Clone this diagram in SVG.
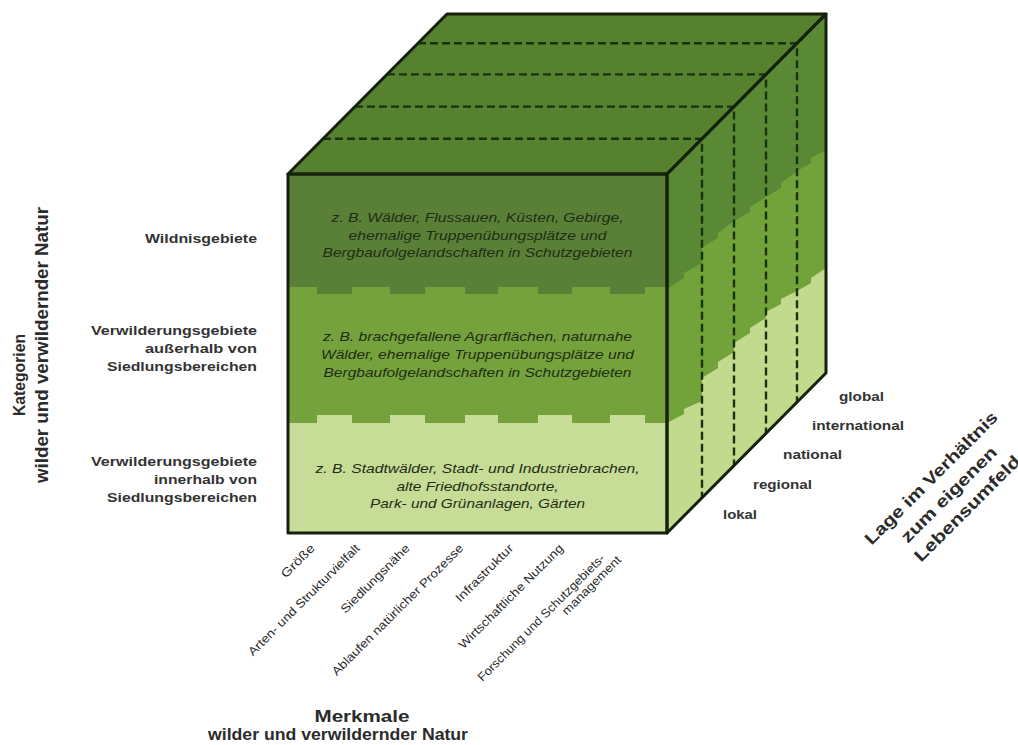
<svg xmlns="http://www.w3.org/2000/svg" width="1018" height="745" viewBox="0 0 1018 745">
<defs>
<style>
text{font-family:"Liberation Sans",Arial,Helvetica,sans-serif}
.band{font-style:italic;font-size:13px;fill:#1f2d14;text-anchor:middle}
.cat{font-size:13px;font-weight:bold;fill:#333;text-anchor:end}
.lvl{font-size:13px;font-weight:bold;fill:#333}
.feat{font-size:12px;fill:#2a2a2a;text-anchor:end}
.title{font-size:17px;font-weight:bold;fill:#2b2b2b;text-anchor:middle}
.edge{fill:none;stroke:#16210d;stroke-width:3;stroke-linejoin:round}
.dash{fill:none;stroke:#1b320c;stroke-width:2.4;stroke-dasharray:8 4}
</style>
<clipPath id="rf"><polygon points="667,174 826,14 826,373 667,533"/></clipPath>
</defs>
<rect width="1018" height="745" fill="#fff"/>

<g id="top-face">
<polygon points="288,174 447,14 826,14 667,174" fill="#56812f"/>
</g>

<g id="front-face">
<rect x="288" y="174" width="379" height="359" fill="#75a23c"/>
<rect x="288" y="174" width="379" height="113" fill="#5a8038"/>
<g fill="#5a8038">
<rect x="317" y="286" width="35" height="8"/><rect x="390" y="286" width="35" height="8"/><rect x="465" y="286" width="33" height="8"/><rect x="538" y="286" width="34" height="8"/><rect x="610" y="286" width="35" height="8"/>
</g>
<rect x="288" y="423" width="379" height="110" fill="#c7dc97"/>
<g fill="#c7dc97">
<rect x="317" y="415" width="35" height="9"/><rect x="390" y="415" width="35" height="9"/><rect x="465" y="415" width="33" height="9"/><rect x="538" y="415" width="34" height="9"/><rect x="610" y="415" width="35" height="9"/>
</g>
</g>

<g id="right-face" clip-path="url(#rf)">
<rect x="660" y="10" width="170" height="530" fill="#5a8936"/>
<polygon fill="#72a33a" points="667,289 684,278 684,273 702,263 702,247 718,238 718,233 734,221 750,212 750,207 766,197 781,188 781,183 797,171 811,163 811,158 826,150 830,150 830,540 667,540"/>
<polygon fill="#c2da8e" points="667,423 684,414 684,409 702,401 702,378 718,368 718,362 734,352 734,343 750,333 750,328 766,318 766,312 781,304 781,299 797,291 811,283 811,278 826,268 830,268 830,540 667,540"/>
</g>

<g id="slices">
<path class="dash" d="M323,138.8 H702 V497.8"/>
<path class="dash" d="M355,106.6 H734 V465.6"/>
<path class="dash" d="M387,74.4 H766 V433.4"/>
<path class="dash" d="M418,43.2 H797 V402.2"/>
</g>

<g id="cube-edges">
<polygon class="edge" points="288,174 447,14 826,14 667,174"/>
<polygon class="edge" points="667,174 826,14 826,373 667,533"/>
<rect class="edge" x="288" y="174" width="379" height="359"/>
</g>

<g id="band-wildnis">
<text class="band" x="477.5" y="222" textLength="292" lengthAdjust="spacingAndGlyphs">z. B. Wälder, Flussauen, Küsten, Gebirge,</text>
<text class="band" x="477.5" y="239.5" textLength="258" lengthAdjust="spacingAndGlyphs">ehemalige Truppenübungsplätze und</text>
<text class="band" x="477.5" y="257" textLength="310" lengthAdjust="spacingAndGlyphs">Bergbaufolgelandschaften in Schutzgebieten</text>
</g>
<g id="band-aussen">
<text class="band" x="477.5" y="340.5" textLength="309" lengthAdjust="spacingAndGlyphs">z. B. brachgefallene Agrarflächen, naturnahe</text>
<text class="band" x="477.5" y="358.5" textLength="313" lengthAdjust="spacingAndGlyphs">Wälder, ehemalige Truppenübungsplätze und</text>
<text class="band" x="477.5" y="376.5" textLength="308" lengthAdjust="spacingAndGlyphs">Bergbaufolgelandschaften in Schutzgebieten</text>
</g>
<g id="band-innen">
<text class="band" x="477.5" y="473" textLength="324" lengthAdjust="spacingAndGlyphs">z. B. Stadtwälder, Stadt- und Industriebrachen,</text>
<text class="band" x="477.5" y="490.5" textLength="162" lengthAdjust="spacingAndGlyphs">alte Friedhofsstandorte,</text>
<text class="band" x="477.5" y="508" textLength="215" lengthAdjust="spacingAndGlyphs">Park- und Grünanlagen, Gärten</text>
</g>

<g id="categories">
<text class="cat" x="257" y="243" textLength="112" lengthAdjust="spacingAndGlyphs">Wildnisgebiete</text>
<text class="cat" x="257" y="334.5" textLength="166" lengthAdjust="spacingAndGlyphs">Verwilderungsgebiete</text>
<text class="cat" x="257" y="352.5" textLength="112" lengthAdjust="spacingAndGlyphs">außerhalb von</text>
<text class="cat" x="257" y="370.5" textLength="150" lengthAdjust="spacingAndGlyphs">Siedlungsbereichen</text>
<text class="cat" x="257" y="466" textLength="166" lengthAdjust="spacingAndGlyphs">Verwilderungsgebiete</text>
<text class="cat" x="257" y="484" textLength="103" lengthAdjust="spacingAndGlyphs">innerhalb von</text>
<text class="cat" x="257" y="502" textLength="150" lengthAdjust="spacingAndGlyphs">Siedlungsbereichen</text>
</g>

<g id="title-categories">
<text class="title" transform="translate(25,375) rotate(-90)" style="font-size:17px" textLength="82" lengthAdjust="spacingAndGlyphs">Kategorien</text>
<text class="title" transform="translate(48,345) rotate(-90)" style="font-size:18px" textLength="276" lengthAdjust="spacingAndGlyphs">wilder und verwildernder Natur</text>
</g>

<g id="levels">
<text class="lvl" x="839" y="401" textLength="45" lengthAdjust="spacingAndGlyphs">global</text>
<text class="lvl" x="812" y="430" textLength="92" lengthAdjust="spacingAndGlyphs">international</text>
<text class="lvl" x="783" y="459" textLength="59" lengthAdjust="spacingAndGlyphs">national</text>
<text class="lvl" x="753" y="489" textLength="59" lengthAdjust="spacingAndGlyphs">regional</text>
<text class="lvl" x="723" y="519" textLength="34" lengthAdjust="spacingAndGlyphs">lokal</text>
</g>

<g id="title-levels" transform="translate(931,478) rotate(-45)">
<text class="title" x="0" y="6" textLength="180" lengthAdjust="spacingAndGlyphs">Lage im Verhältnis</text>
<text class="title" x="1" y="30" textLength="128" lengthAdjust="spacingAndGlyphs">zum eigenen</text>
<text class="title" x="4" y="53" textLength="142" lengthAdjust="spacingAndGlyphs">Lebensumfeld</text>
</g>

<g id="features">
<text class="feat" transform="translate(315.5,549) rotate(-45)" textLength="42" lengthAdjust="spacingAndGlyphs">Größe</text>
<text class="feat" transform="translate(360.5,549) rotate(-45)" textLength="152" lengthAdjust="spacingAndGlyphs">Arten- und Strukturvielfalt</text>
<text class="feat" transform="translate(410.5,549) rotate(-45)" textLength="92" lengthAdjust="spacingAndGlyphs">Siedlungsnähe</text>
<text class="feat" transform="translate(464,549) rotate(-45)" textLength="180" lengthAdjust="spacingAndGlyphs">Ablaufen natürlicher Prozesse</text>
<text class="feat" transform="translate(514,549) rotate(-45)" textLength="76" lengthAdjust="spacingAndGlyphs">Infrastruktur</text>
<text class="feat" transform="translate(564,549) rotate(-45)" textLength="142" lengthAdjust="spacingAndGlyphs">Wirtschaftliche Nutzung</text>
<text class="feat" transform="translate(605.5,559) rotate(-45)" textLength="174" lengthAdjust="spacingAndGlyphs">Forschung und Schutzgebiets-</text>
<text class="feat" transform="translate(622,560.5) rotate(-45)" textLength="78" lengthAdjust="spacingAndGlyphs">management</text>
</g>

<g id="title-features">
<text class="title" x="362" y="722" style="font-size:16px" textLength="95" lengthAdjust="spacingAndGlyphs">Merkmale</text>
<text class="title" x="338" y="740" style="font-size:16px" textLength="260" lengthAdjust="spacingAndGlyphs">wilder und verwildernder Natur</text>
</g>
</svg>
